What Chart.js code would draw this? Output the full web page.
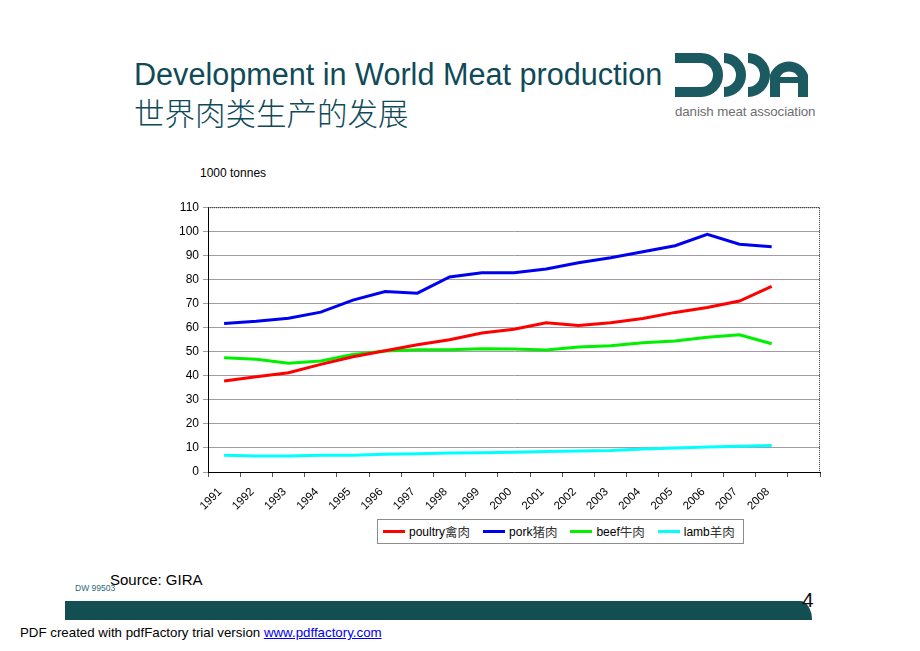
<!DOCTYPE html>
<html>
<head>
<meta charset="utf-8">
<script src="https://cdn.jsdelivr.net/npm/chart.js@4.4.1/dist/chart.umd.min.js"></script>
<style>
  html, body { margin:0; padding:0; background:#fff; }
  body { width:920px; height:651px; position:relative; overflow:hidden; font-family:"Liberation Sans", Arial, sans-serif; }
  .title1 { position:absolute; left:134px; top:57px; font-size:30.6px; color:#0f4a58; white-space:nowrap; }
  .title2 { position:absolute; left:134px; top:94px; font-size:30.5px; color:#0f4a58; font-family:"Noto Sans CJK SC", sans-serif; font-weight:300; white-space:nowrap; line-height:36px; }
  .unit { position:absolute; left:200px; top:166px; font-size:12px; color:#000; }
  #wrap { position:absolute; left:150px; top:196px; width:680px; height:316px; }
  #legend { position:absolute; left:377px; top:519px; width:367px; height:25px; border:1px solid #8c8c8c; box-sizing:border-box;
            display:flex; align-items:center; justify-content:flex-start; padding-left:5px; gap:13px; font-size:12px; }
  #legend .it { display:flex; align-items:center; white-space:nowrap; }
  #legend .sw { width:22px; height:3px; margin-right:4px; }
  #legend .cjk { font-family:"Noto Sans CJK SC", sans-serif; font-size:12.5px; color:#333; }
  .source { position:absolute; left:110px; top:571px; font-size:15px; color:#000; }
  .dw { position:absolute; left:75px; top:583px; font-size:8.5px; color:#2a6a78; }
  .bar { position:absolute; left:65px; top:601px; width:747px; height:19px; background:#134f52; border-top-right-radius:12px 19px; }
  .page { position:absolute; left:802px; top:588px; font-size:21px; color:#111; }
  .pdf { position:absolute; left:20px; top:625px; font-size:13.3px; color:#000; }
  .pdf a { color:#0000ee; text-decoration:underline; }
  .logo { position:absolute; left:0; top:0; }
  .logotext { position:absolute; left:675px; top:104px; font-size:13.3px; color:#6e6e6e; letter-spacing:-0.1px; }
</style>
</head>
<body>
<div class="title1">Development in World Meat production</div>
<div class="title2">世界肉类生产的发展</div>

<svg class="logo" width="920" height="130">
  <g fill="none" stroke="#1a5a60" stroke-width="10">
    <path d="M675,58 H701 A17,17 0 0 1 701,92 H675"/>
    <path d="M724,58 A17,17 0 0 1 724,92"/>
    <path d="M748,58 A17,17 0 0 1 748,92"/>
    <path d="M775,97 V76 A15,15 0 0 1 803,76 V97"/>
  </g>
  <path d="M775,80 H803" stroke="#1a5a60" stroke-width="6"/>
</svg>
<div class="logotext">danish meat association</div>

<div class="unit">1000 tonnes</div>
<div id="wrap"><canvas id="chart"></canvas></div>
<div id="legend"></div>

<div class="source">Source: GIRA</div>
<div class="dw">DW 99503</div>
<div class="bar"></div>
<div class="page">4</div>
<div class="pdf">PDF created with pdfFactory trial version <a>www.pdffactory.com</a></div>

<script>
// data, 1000 tonnes
const years = ['1991','1992','1993','1994','1995','1996','1997','1998','1999','2000',
               '2001','2002','2003','2004','2005','2006','2007','2008',''];
const poultry = [37.8, 39.6, 41.2, 44.7, 47.9, 50.4, 52.9, 54.9, 57.7, 59.3, 62.0, 60.9, 62.0, 63.8, 66.3, 68.3, 71.0, 77.1];
const pork    = [61.7, 62.6, 63.9, 66.4, 71.4, 75.0, 74.3, 81.0, 82.8, 82.8, 84.3, 86.9, 89.0, 91.5, 94.0, 98.7, 94.6, 93.6];
const beef    = [47.5, 46.8, 45.2, 46.1, 48.8, 50.3, 50.8, 50.8, 51.2, 51.1, 50.7, 51.9, 52.4, 53.7, 54.4, 56.0, 57.0, 53.3];
const lamb    = [7.0, 6.6, 6.6, 7.0, 7.0, 7.4, 7.6, 7.9, 8.0, 8.2, 8.5, 8.7, 8.9, 9.6, 10.0, 10.4, 10.7, 11.0];
const seriesNames = ['poultry', 'pork', 'beef', 'lamb'];
const seriesCjk = ['禽肉', '猪肉', '牛肉', '羊肉'];
const seriesColors = ['#ff0000', '#0000f0', '#00f000', '#00ffff'];

const font = { family: '"Liberation Sans", Arial, sans-serif', size: 12 };

// top + right border of the plot area
const frame = {
  id: 'frame',
  afterDraw(c) {
    const a = c.chartArea, ctx = c.ctx;
    ctx.save();
    ctx.strokeStyle = '#333';
    ctx.lineWidth = 1;
    ctx.setLineDash([1, 1]);
    ctx.beginPath();
    ctx.moveTo(a.left, a.top + 0.5);
    ctx.lineTo(a.right - 0.5, a.top + 0.5);
    ctx.lineTo(a.right - 0.5, a.bottom);
    ctx.stroke();
    ctx.restore();
  }
};

// boxed legend built from the chart's own label items
const htmlLegend = {
  id: 'htmlLegend',
  afterUpdate(c) {
    const box = document.getElementById('legend');
    box.innerHTML = '';
    c.options.plugins.legend.labels.generateLabels(c).forEach((item, i) => {
      const el = document.createElement('div');
      el.className = 'it';
      el.innerHTML = '<span class="sw" style="background:' + item.strokeStyle + '"></span>' +
        seriesNames[i] + '<span class="cjk">' + seriesCjk[i] + '</span>';
      box.appendChild(el);
    });
  }
};

const allData = [poultry, pork, beef, lamb];

new Chart(document.getElementById('chart'), {
  type: 'line',
  data: {
    labels: years,
    datasets: allData.map((d, i) => ({
      label: seriesNames[i] + seriesCjk[i],
      data: d,
      borderColor: seriesColors[i],
      backgroundColor: seriesColors[i],
      borderWidth: 3,
      pointRadius: 0,
      tension: 0,
      fill: false
    }))
  },
  options: {
    responsive: true,
    maintainAspectRatio: false,
    animation: false,
    layout: { padding: { top: 10, right: 10, left: 0, bottom: 0 } },
    plugins: { legend: { display: false }, tooltip: { enabled: false } },
    scales: {
      x: {
        offset: true,
        grid: { offset: true, drawOnChartArea: false, tickLength: 5, color: '#555' },
        border: { color: '#000', width: 1 },
        ticks: { color: '#000', font: { family: font.family, size: 11.5 }, maxRotation: 45, minRotation: 45,
                 autoSkip: false, padding: 8, labelOffset: -4 },
        afterFit(s) { s.height = 40; }
      },
      y: {
        min: 0, max: 110,
        grid: { color: '#a39aa3', tickLength: 5, lineWidth: 1 },
        border: { color: '#000', width: 1 },
        ticks: { stepSize: 10, color: '#000', font: font, padding: 4 },
        afterFit(s) { s.width = 58; }
      }
    }
  },
  plugins: [frame, htmlLegend]
});
</script>
</body>
</html>
